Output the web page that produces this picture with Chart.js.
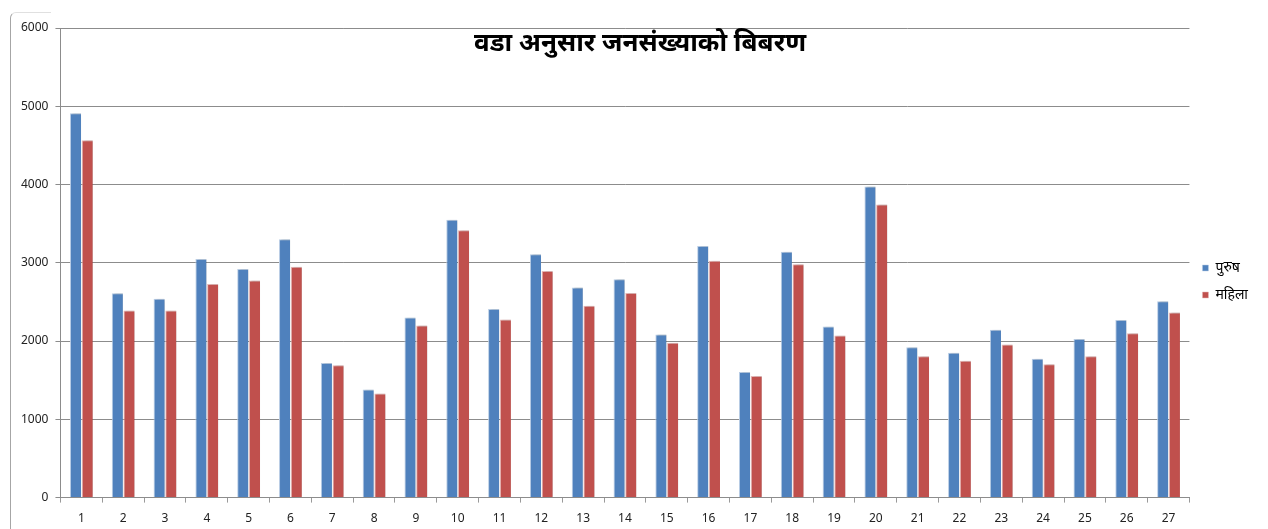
<!DOCTYPE html>
<html>
<head>
<meta charset="utf-8">
<script src="https://cdn.jsdelivr.net/npm/chart.js@4/dist/chart.umd.min.js"></script>
<style>
  html,body{margin:0;padding:0;background:#fff;}
  #wrap{position:relative;width:1268px;height:529px;}
  #frame{position:absolute;left:10px;top:12px;width:40px;height:530px;border-left:1px solid #a6a6a6;border-top:1px solid #e0e0e0;border-top-left-radius:6px;}
  canvas{position:absolute;left:0;top:0;}
</style>
</head>
<body>
<div id="wrap">
  <div id="frame"></div>
  <canvas id="chart" width="1268" height="529"></canvas>
</div>
<script>
// ward wise population - male / female
const wards = ['1','2','3','4','5','6','7','8','9','10','11','12','13','14','15','16','17','18','19','20','21','22','23','24','25','26','27'];
const purush = [4910,2610,2540,3050,2920,3300,1720,1380,2300,3550,2410,3110,2685,2790,2085,3215,1605,3140,2185,3975,1920,1850,2145,1775,2025,2270,2510];
const mahila = [4565,2390,2390,2730,2775,2950,1690,1330,2200,3415,2275,2895,2450,2615,1980,3025,1555,2980,2070,3745,1805,1750,1955,1705,1805,2100,2365];
const yTicks = [0,1000,2000,3000,4000,5000,6000];
const chartTitle = 'वडा अनुसार जनसंख्याको बिबरण';

const FONT = "'Noto Sans', 'Noto Sans Devanagari', 'Lohit Devanagari', Arial, sans-serif";

// title sits inside the plot area like the excel chart
const titlePlugin = {
  id:'insideTitle',
  afterDraw(chart){
    const c=chart.ctx;
    c.save();
    c.font = "bold 26px " + FONT;
    c.fillStyle='#000';
    c.textAlign='center'; c.textBaseline='middle';
    c.fillText(chartTitle, 640, 44);
    c.restore();
  }
};

// soft shadow behind bars
const shadowPlugin = {
  id:'barShadow',
  beforeDatasetsDraw(chart){
    const c=chart.ctx; c.save();
    c.shadowColor='rgba(0,0,0,0.22)'; c.shadowBlur=2; c.shadowOffsetX=2; c.shadowOffsetY=0;
  },
  afterDatasetsDraw(chart){ chart.ctx.restore(); }
};

const ctx=document.getElementById('chart').getContext('2d');
new Chart(ctx,{
  type:'bar',
  data:{
    labels:wards,
    datasets:[
      {label:'पुरुष', data:purush, backgroundColor:'#4F81BD', borderColor:'#b9cde5', borderWidth:{top:1,left:1,right:0,bottom:0}},
      {label:'महिला', data:mahila, backgroundColor:'#C0504D', borderColor:'#e6b9b8', borderWidth:{top:1,left:1,right:0,bottom:0}}
    ]
  },
  options:{
    responsive:false,
    animation:false,
    layout:{padding:{left:14,top:28,right:10,bottom:-6}},
    categoryPercentage:0.56,
    barPercentage:0.95,
    plugins:{
      title:{display:false},
      tooltip:{enabled:false},
      legend:{
        position:'right',
        labels:{boxWidth:6,boxHeight:6,padding:13,color:'#000',font:{family:FONT,size:14}}
      }
    },
    scales:{
      x:{
        grid:{drawOnChartArea:false,drawTicks:true,tickLength:5,color:'#9a9a9a'},
        border:{color:'#8c8c8c'},
        ticks:{color:'#222',font:{family:FONT,size:12},padding:9}
      },
      y:{
        min:0,max:6000,
        afterBuildTicks(axis){ axis.ticks = yTicks.map(v=>({value:v})); },
        grid:{color:'#8c8c8c',tickLength:5},
        border:{color:'#8c8c8c'},
        ticks:{color:'#222',font:{family:FONT,size:12},padding:7,callback:v=>String(v)}
      }
    }
  },
  plugins:[titlePlugin,shadowPlugin]
});
</script>
</body>
</html>
